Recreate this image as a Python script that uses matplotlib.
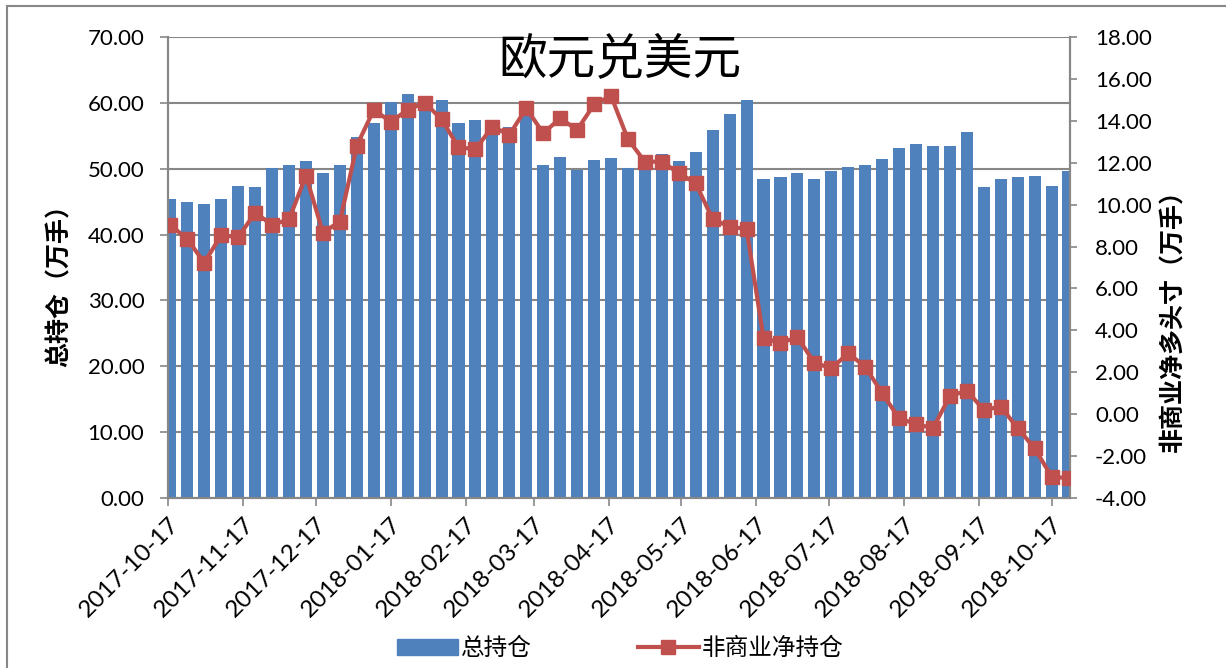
import matplotlib
matplotlib.use("Agg")
import matplotlib.pyplot as plt
import matplotlib.dates as mdates
from matplotlib.patches import Patch, Rectangle
from matplotlib.lines import Line2D
import pandas as pd
import datetime

plt.rcParams['font.family'] = ['Lato', 'Noto Sans CJK SC', 'DejaVu Sans']
plt.rcParams['axes.unicode_minus'] = False

# weekly report dates (Tuesdays)
dates = pd.date_range("2017-10-17", periods=54, freq="7D")

# 总持仓 (万手)
total_oi = [45.4, 45.0, 44.7, 45.4, 47.4, 47.2, 50.1, 50.5, 51.1, 49.3,
            50.5, 54.8, 56.9, 60.2, 61.3, 60.7, 60.4, 57.0, 57.4, 56.6,
            56.4, 58.8, 50.5, 51.8, 49.8, 51.3, 51.6, 50.1, 51.6, 52.3,
            51.1, 52.6, 55.9, 58.3, 60.4, 48.4, 48.7, 49.3, 48.4, 49.6,
            50.2, 50.5, 51.4, 53.2, 53.8, 53.5, 53.5, 55.6, 47.2, 48.4,
            48.7, 48.9, 47.4, 49.6]

# 非商业净持仓 (万手)
net_long = [9.03, 8.35, 7.23, 8.55, 8.44, 9.62, 9.03, 9.30, 11.38, 8.67,
            9.19, 12.82, 14.52, 13.96, 14.52, 14.87, 14.07, 12.74, 12.64, 13.72,
            13.33, 14.60, 13.41, 14.12, 13.57, 14.78, 15.19, 13.12, 12.05, 12.05,
            11.50, 11.02, 9.30, 8.95, 8.83, 3.62, 3.41, 3.67, 2.46, 2.19,
            2.90, 2.27, 1.00, -0.20, -0.47, -0.67, 0.87, 1.12, 0.20, 0.36,
            -0.67, -1.63, -2.98, -3.06]

# monthly ticks on the 17th
tick_dates = [datetime.datetime(2017 + (9 + i) // 12, (9 + i) % 12 + 1, 17) for i in range(13)]

blue = '#4F81BD'
red = '#C0504D'
grey = '#878787'

fig = plt.figure(figsize=(12.26, 6.68), dpi=100)
ax = fig.add_axes([168 / 1226, 1 - 498 / 668, (1070 - 168) / 1226, (498 - 37) / 668])
ax2 = ax.twinx()

x = mdates.date2num(dates) + 1
ax.bar(x, total_oi, width=5, color=blue, zorder=2)
ax2.plot(x, net_long, color=red, lw=3, marker='s', markersize=9.5, zorder=3)

ax.set_xticks(mdates.date2num(tick_dates))
ax.set_xticklabels([d.strftime("%Y-%m-%d") for d in tick_dates],
                   rotation=45, ha='right', rotation_mode='anchor', fontsize=17.5)

x0 = mdates.date2num(tick_dates[0])
ax.set_xlim(x0, x0 + 372.6)
ax.set_ylim(0, 70)
ax2.set_ylim(-4, 18)
ax.set_yticks(range(0, 71, 10))
ax2.set_yticks(range(-4, 19, 2))
ax.yaxis.set_major_formatter(plt.FuncFormatter(lambda v, p: f"{v:.2f}"))
ax2.yaxis.set_major_formatter(plt.FuncFormatter(lambda v, p: f"{v:.2f}"))

ax.grid(axis='y', color=grey, lw=1.5, zorder=0)
ax.set_axisbelow(True)
for a in (ax, ax2):
    for s in a.spines.values():
        s.set_color(grey)
        s.set_linewidth(1.5)
    a.spines['top'].set_visible(False)
ax.tick_params(axis='y', length=6, width=1.2, color=grey, pad=11, labelsize=16)
ax.tick_params(axis='x', length=6, width=1.2, color=grey, pad=5)
ax2.tick_params(axis='y', length=5, width=1.2, color=grey, pad=13, labelsize=16)

ax.set_ylabel("总持仓（万手）", fontsize=18, fontweight='bold', labelpad=12)
ax2.set_ylabel("非商业净多头寸（万手）", fontsize=18, fontweight='bold', labelpad=6)
ax.yaxis.label.set_y(0.473)
ax2.yaxis.label.set_y(0.397)

fig.text(620 / 1226, 1 - 58 / 668, "欧元兑美元", fontsize=35, ha='center', va='center')

handles = [Patch(facecolor=blue, edgecolor=blue),
           Line2D([], [], color=red, lw=3, marker='s', markersize=9.5)]
fig.legend(handles, ["总持仓", "非商业净持仓"], loc='center', ncol=2, frameon=False,
           bbox_to_anchor=(620 / 1226, 1 - 648 / 668), fontsize=17,
           handlelength=2.6, handletextpad=0.1, columnspacing=4.5)

fig.add_artist(Rectangle((7 / 1226, -0.1), 1.2, 1 - 6 / 668 + 0.1, transform=fig.transFigure,
                         fill=False, edgecolor=grey, lw=1.5))

fig.savefig("out.png", dpi=100)
